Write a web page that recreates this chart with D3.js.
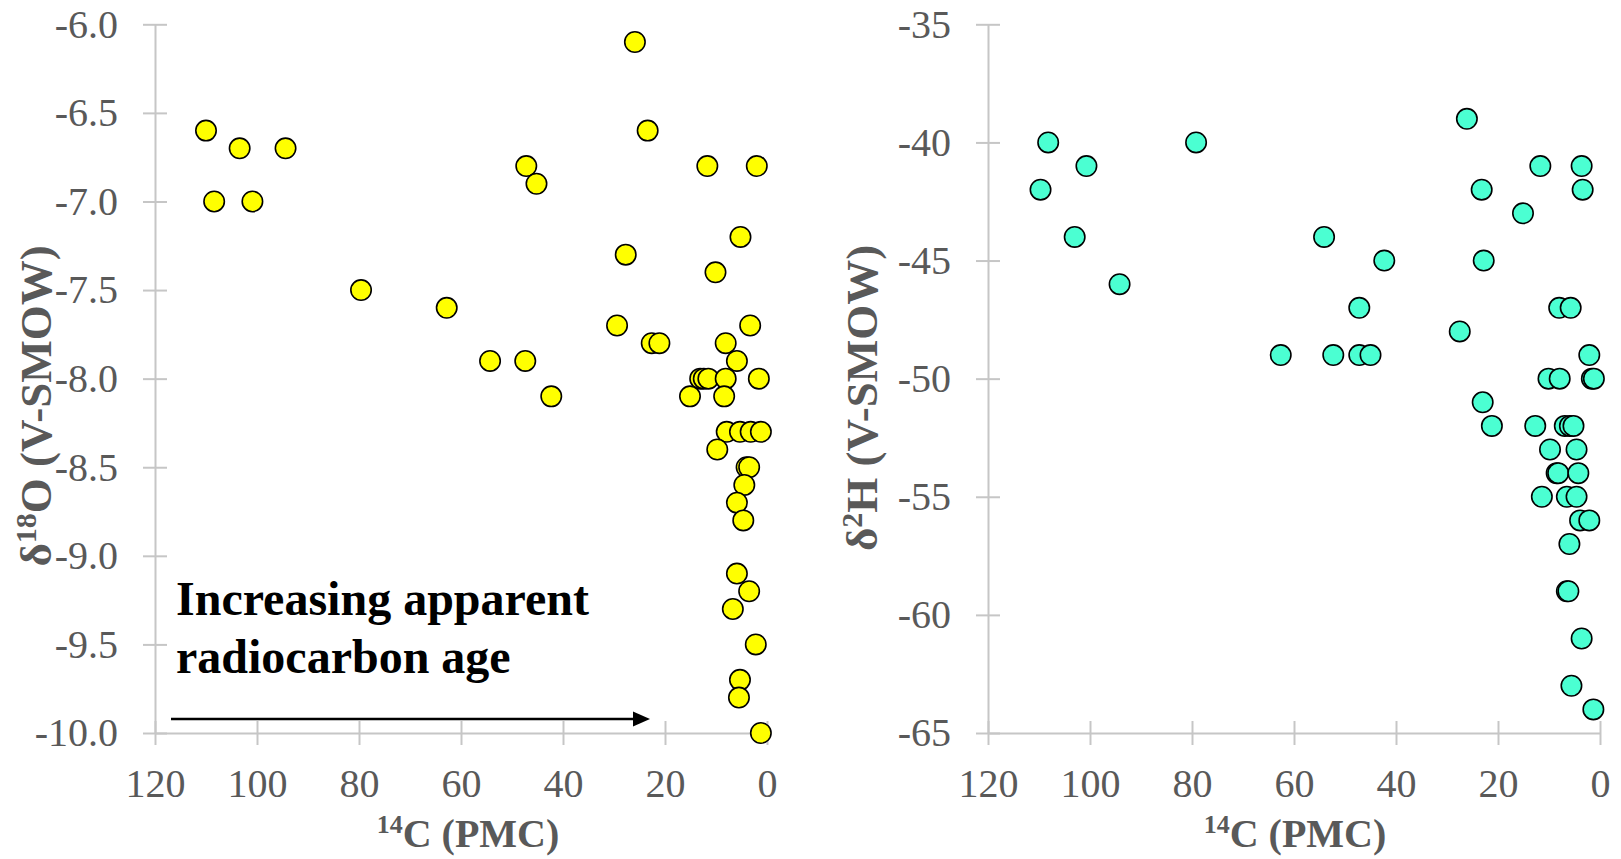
<!DOCTYPE html>
<html>
<head>
<meta charset="utf-8">
<script src="https://cdn.jsdelivr.net/npm/d3@7"></script>
<style>
  html, body { margin: 0; padding: 0; background: #fff; }
  svg { display: block; }
  text { font-family: "Liberation Serif", "Times New Roman", serif; }
</style>
</head>
<body>
<script>
// ---- Data ----
const xTicks = [120, 100, 80, 60, 40, 20, 0];
const yTicksO = [-6.0, -6.5, -7.0, -7.5, -8.0, -8.5, -9.0, -9.5, -10.0];
const yTicksH = [-35, -40, -45, -50, -55, -60, -65];

// Left panel: 14C (PMC) vs d18O
const pmcO = [110, 103.4, 94.4, 108.4, 100.9, 79.6, 62.8, 54.3, 47.4, 42.3,
  47.2, 45.2, 25.9, 23.4, 27.7, 29.4, 22.6, 21.1, 11.7, 2.0,
  5.2, 10.1, 3.3, 8.1, 5.9, 13.1, 12.4, 11.5, 8.1, 1.6,
  15.1, 8.4, 7.9, 5.3, 3.2, 1.2, 9.75, 4.0, 3.5, 4.45,
  5.9, 4.65, 5.9, 3.5, 6.7, 2.2, 5.3, 5.5, 1.2];
const d18O = [-6.6, -6.7, -6.7, -7.0, -7.0, -7.5, -7.6, -7.9, -7.9, -8.1,
  -6.8, -6.9, -6.1, -6.6, -7.3, -7.7, -7.8, -7.8, -6.8, -6.8,
  -7.2, -7.4, -7.7, -7.8, -7.9, -8.0, -8.0, -8.0, -8.0, -8.0,
  -8.1, -8.1, -8.3, -8.3, -8.3, -8.3, -8.4, -8.5, -8.5, -8.6,
  -8.7, -8.8, -9.1, -9.2, -9.3, -9.5, -9.7, -9.8, -10.0];

// Right panel: 14C (PMC) vs d2H
const pmcH = [109.7, 108.2, 103, 100.7, 94.2, 79.2, 62.6, 54.1, 52.3, 47.2,
  47.2, 45, 42.3, 26.1, 27.5, 23.2, 22.8, 23, 21.2, 15.1,
  11.7, 3.6, 3.4, 8.0, 5.75, 2.1, 10.1, 7.9, 1.6, 1.2,
  12.7, 6.9, 5.9, 5.2, 9.8, 4.6, 8.5, 8.2, 4.25, 11.4,
  6.5, 4.6, 3.9, 2.1, 6.0, 6.5, 6.2, 3.6, 5.6, 1.3];
const d2H = [-42, -40, -44, -41, -46, -40, -49, -44, -49, -47,
  -49, -49, -45, -39, -48, -42, -45, -51, -52, -43,
  -41, -41, -42, -47, -47, -49, -50, -50, -50, -50,
  -52, -52, -52, -52, -53, -53, -54, -54, -54, -55,
  -55, -55, -56, -56, -57, -59, -59, -61, -63, -64];

const annotationLines = ["Increasing apparent", "radiocarbon age"];

// ---- Drawing ----
const W = 1621, H = 859;
const svg = d3.select("body").append("svg").attr("width", W).attr("height", H);

const axisColor = "#C6C6C6";
const labelColor = "#595959";
const TOP = 24.3, BOTTOM = 733;

function panel(opts) {
  const g = svg.append("g");
  const x = d3.scaleLinear().domain([120, 0]).range([opts.left, opts.right]);
  const y = d3.scaleLinear().domain(opts.yDomain).range([TOP, BOTTOM]);

  // y axis
  const ya = g.append("g").attr("transform", `translate(${opts.left},0)`)
    .call(d3.axisLeft(y).tickValues(opts.yTicks).tickFormat(opts.yFmt)
      .tickSizeInner(12).tickSizeOuter(0).tickPadding(25));
  ya.select(".domain").attr("stroke", axisColor).attr("stroke-width", 2);
  ya.selectAll(".tick line").attr("stroke", axisColor).attr("stroke-width", 2).attr("x1", 12);
  ya.selectAll(".tick text").attr("fill", labelColor).style("font-size", "40px")
    .style("font-family", "'Liberation Serif', serif");

  // x axis
  const xa = g.append("g").attr("transform", `translate(0,${BOTTOM})`)
    .call(d3.axisBottom(x).tickValues(xTicks).tickFormat(d => String(d))
      .tickSizeInner(12).tickSizeOuter(0).tickPadding(25));
  xa.select(".domain").attr("stroke", axisColor).attr("stroke-width", 2);
  xa.selectAll(".tick line").attr("stroke", axisColor).attr("stroke-width", 2).attr("y1", -12);
  xa.selectAll(".tick text").attr("fill", labelColor).style("font-size", "40px")
    .style("font-family", "'Liberation Serif', serif")
    .attr("y", 64).attr("dy", null);

  // points
  g.append("g").selectAll("circle").data(opts.xs.map((v, i) => [v, opts.ys[i]]))
    .join("circle")
    .attr("cx", d => x(d[0])).attr("cy", d => y(d[1]))
    .attr("r", 10.2)
    .attr("fill", opts.fill).attr("stroke", "#000").attr("stroke-width", 1.6);

  // x title
  const xt = g.append("text").attr("x", opts.xTitleX).attr("y", 847)
    .attr("text-anchor", "middle").attr("fill", labelColor)
    .style("font-size", "40px").style("font-weight", "bold");
  xt.append("tspan").text("14").style("font-size", "26px").attr("dy", -14);
  xt.append("tspan").text("C (PMC)").attr("dy", 14);

  // y title
  const yt = g.append("text")
    .attr("transform", `translate(${opts.yTitleX},${opts.yTitleY}) rotate(-90)`)
    .attr("text-anchor", "middle").attr("fill", labelColor)
    .style("font-size", "45px").style("font-weight", "bold");
  yt.append("tspan").text("δ");
  yt.append("tspan").text(opts.sup).style("font-size", "30px").attr("dy", -15);
  yt.append("tspan").text(opts.elem + " (V-SMOW)").attr("dy", 15);

  return { x, y, g };
}

const left = panel({
  left: 155, right: 767, yDomain: [-6, -10], yTicks: yTicksO, yFmt: d => d.toFixed(1),
  xs: pmcO, ys: d18O, fill: "#FFFF00",
  xTitleX: 468, yTitleX: 51, yTitleY: 406, sup: "18", elem: "O"
});

const right = panel({
  left: 988, right: 1600, yDomain: [-35, -65], yTicks: yTicksH, yFmt: d => String(d),
  xs: pmcH, ys: d2H, fill: "#4BFFD2",
  xTitleX: 1295, yTitleX: 877, yTitleY: 398, sup: "2", elem: "H"
});

// annotation
const ann = svg.append("text").attr("x", 176).attr("y", 615)
  .attr("fill", "#000").style("font-size", "48px").style("font-weight", "bold");
annotationLines.forEach((t, i) => {
  ann.append("tspan").attr("x", 176).attr("dy", i === 0 ? 0 : 58).text(t);
});

// arrow
svg.append("line").attr("x1", 171).attr("x2", 636).attr("y1", 719).attr("y2", 719)
  .attr("stroke", "#000").attr("stroke-width", 2.5);
svg.append("path").attr("d", "M633,711.5 L650,719 L633,726.5 Z").attr("fill", "#000");
</script>
</body>
</html>
